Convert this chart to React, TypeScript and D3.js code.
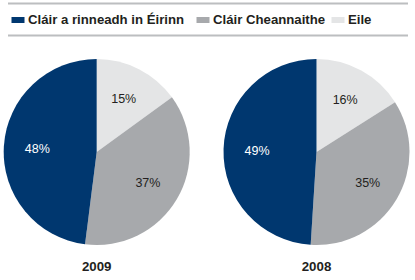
import React from "react";
import * as d3 from "d3";

const categories = ["Eile", "Cláir Cheannaithe", "Cláir a rinneadh in Éirinn"];
const legendOrder = ["Cláir a rinneadh in Éirinn", "Cláir Cheannaithe", "Eile"];
const years = ["2009", "2008"];
const values2009 = [15, 37, 48];
const values2008 = [16, 35, 49];
const colors = ["#e4e5e6", "#a7a9ac", "#00376f"];
const textColors = ["#231f20", "#231f20", "#ffffff"];

const W = 415;
const H = 280;
const R = 93;
const centersX = [96.7, 316.5];
const centerY = 152;

export default function App() {
  const color = d3.scaleOrdinal<string, string>().domain(categories).range(colors);
  const tcolor = d3.scaleOrdinal<string, string>().domain(categories).range(textColors);
  const pie = d3.pie<number>().sort(null).value((d) => d);
  const arc = d3.arc<d3.PieArcDatum<number>>().innerRadius(0).outerRadius(R);
  const labelArc = d3.arc<d3.PieArcDatum<number>>().innerRadius(R * 0.64).outerRadius(R * 0.64);
  const series = [values2009, values2008];
  const fontFamily = "'Liberation Sans', Arial, Helvetica, sans-serif";

  const legendX = [11.5, 196.5, 331.5];
  return (
    <svg width={W} height={H} style={{ position: "absolute", left: 0, top: 0 }} fontFamily={fontFamily}>
      <line x1={8} x2={408} y1={3.5} y2={3.5} stroke="#bcbec0" strokeWidth={2} />
      <line x1={8} x2={408} y1={35.5} y2={35.5} stroke="#bcbec0" strokeWidth={2} />
      {legendOrder.map((c, i) => (
        <g key={c} transform={`translate(${legendX[i]},0)`}>
          <rect x={0} y={17} width={13} height={6} fill={color(c)} />
          <text x={16.5} y={23.5} fontSize={13.2} fontWeight="bold" fill="#231f20">{c}</text>
        </g>
      ))}
      {series.map((vals, si) => {
        const arcs = pie(vals);
        return (
          <g key={years[si]} transform={`translate(${centersX[si]},${centerY})`}>
            {arcs.map((a, i) => (
              <path key={i} d={arc(a) || ""} fill={color(categories[i])} />
            ))}
            {arcs.map((a, i) => {
              const [x, y] = labelArc.centroid(a);
              return (
                <text key={"t" + i} x={x} y={y} dy="0.35em" textAnchor="middle" fontSize={12.5} fill={tcolor(categories[i])}>
                  {vals[i]}%
                </text>
              );
            })}
            <text x={0} y={119} textAnchor="middle" fontSize={13.3} fontWeight="bold" fill="#231f20">{years[si]}</text>
          </g>
        );
      })}
    </svg>
  );
}
